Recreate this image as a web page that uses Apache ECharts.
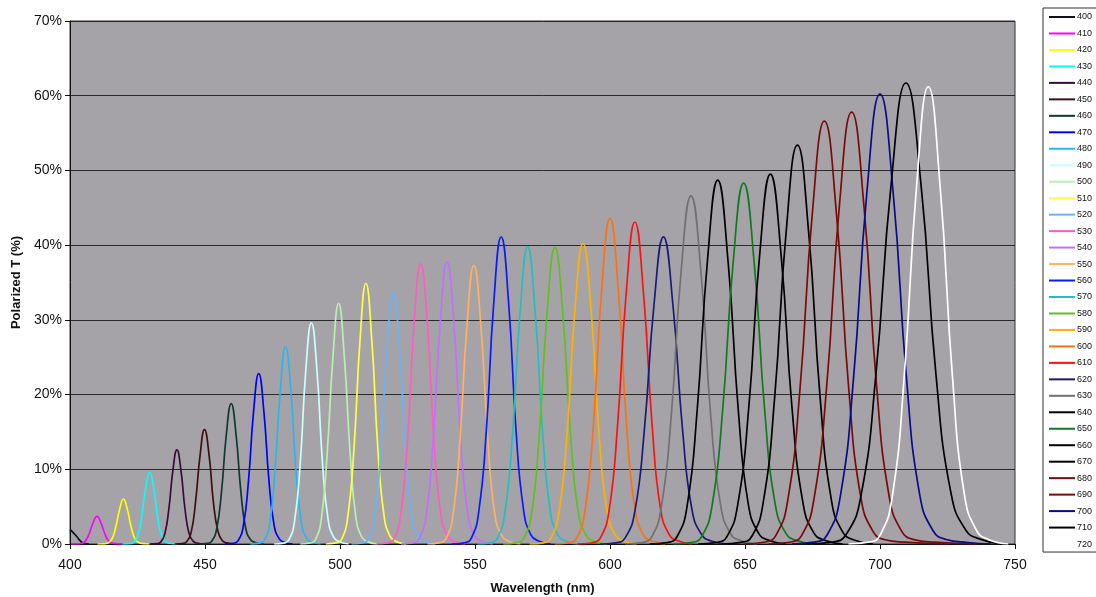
<!DOCTYPE html>
<html>
<head>
<meta charset="utf-8">
<script src="https://cdn.jsdelivr.net/npm/echarts@6/dist/echarts.min.js"></script>
<style>
    html, body { margin: 0; padding: 0; background: #fff; }
    #chart { width: 1096px; height: 597px; }
</style>
</head>
<body>
<div id="chart"></div>
<script>
// wavelength (nm), polarized T (%), one array per filter
var t400 = [[400, 1.9], [401, 1.6], [402.5, 1.0], [404, 0.35], [405.5, 0.05], [407, 0]];
var t410 = [[400.4, 0], [402.8, 0.01], [404.2, 0.07], [405.7, 0.39], [407.1, 1.37], [408.6, 2.88], [410, 3.7], [411.4, 2.88], [412.9, 1.37], [414.3, 0.41], [415.8, 0.11], [417.2, 0.04], [419.6, 0]];
var t420 = [[410.2, 0], [412.6, 0.02], [414.0, 0.12], [415.5, 0.64], [416.9, 2.21], [418.4, 4.67], [419.8, 6.0], [421.2, 4.67], [422.7, 2.21], [424.1, 0.66], [425.6, 0.18], [427.0, 0.06], [429.4, 0]];
var t430 = [[419.5, 0], [422.0, 0.04], [423.5, 0.19], [425.0, 1.02], [426.5, 3.54], [428.0, 7.48], [429.5, 9.6], [431.0, 7.48], [432.5, 3.54], [434.0, 1.06], [435.5, 0.29], [437.0, 0.1], [439.5, 0]];
var t440 = [[429.6, 0], [432.1, 0.05], [433.6, 0.25], [435.1, 1.34], [436.6, 4.65], [438.1, 9.82], [439.6, 12.6], [441.1, 9.82], [442.6, 4.65], [444.1, 1.39], [445.6, 0.38], [447.1, 0.13], [449.6, 0]];
var t450 = [[438.8, 0], [441.6, 0.06], [443.2, 0.31], [444.9, 1.62], [446.5, 5.65], [448.2, 11.92], [449.8, 15.3], [451.5, 11.92], [453.1, 5.65], [454.8, 1.68], [456.4, 0.46], [458.1, 0.15], [460.8, 0]];
var t460 = [[447.7, 0], [450.7, 0.08], [452.5, 0.38], [454.3, 1.99], [456.1, 6.94], [457.9, 14.65], [459.7, 18.8], [461.5, 14.65], [463.3, 6.94], [465.1, 2.07], [466.9, 0.56], [468.7, 0.19], [471.7, 0]];
var t470 = [[457.3, 0], [460.5, 0.09], [462.3, 0.46], [464.2, 2.42], [466.1, 8.41], [468.0, 17.76], [469.9, 22.8], [471.8, 17.76], [473.7, 8.41], [475.6, 2.51], [477.5, 0.68], [479.4, 0.23], [482.5, 0]];
var t480 = [[466.8, 0], [470.1, 0.11], [472.0, 0.53], [474.0, 2.8], [475.9, 9.74], [477.9, 20.57], [479.8, 26.4], [481.8, 20.57], [483.7, 9.74], [485.7, 2.9], [487.6, 0.79], [489.6, 0.26], [492.8, 0]];
var t490 = [[475.6, 0], [479.1, 0.12], [481.1, 0.59], [483.2, 3.14], [485.3, 10.92], [487.3, 23.06], [489.4, 29.6], [491.5, 23.06], [493.5, 10.92], [495.6, 3.26], [497.7, 0.89], [499.8, 0.3], [503.2, 0]];
var t500 = [[485.3, 0], [488.9, 0.13], [491.0, 0.64], [493.1, 3.41], [495.2, 11.88], [497.4, 25.08], [499.5, 32.2], [501.6, 25.08], [503.8, 11.88], [505.9, 3.54], [508.0, 0.97], [510.2, 0.32], [513.7, 0]];
var t510 = [[494.8, 0], [498.5, 0.14], [500.7, 0.7], [502.9, 3.7], [505.2, 12.88], [507.4, 27.19], [509.6, 34.9], [511.8, 27.19], [514.0, 12.88], [516.3, 3.84], [518.5, 1.05], [520.7, 0.35], [524.4, 0]];
var t520 = [[504.3, 0], [508.2, 0.13], [510.5, 0.67], [512.8, 3.57], [515.1, 12.44], [517.4, 26.25], [519.7, 33.7], [522.0, 26.25], [524.3, 12.44], [526.6, 3.71], [528.9, 1.01], [531.3, 0.34], [535.1, 0]];
var t530 = [[513.5, 0], [517.6, 0.15], [520.1, 0.75], [522.5, 3.98], [525.0, 13.84], [527.4, 29.21], [529.9, 37.5], [532.4, 29.21], [534.8, 13.84], [537.3, 4.13], [539.7, 1.13], [542.2, 0.38], [546.3, 0]];
var t540 = [[522.6, 0], [526.9, 0.15], [529.4, 0.76], [532.0, 4.01], [534.5, 13.95], [537.1, 29.45], [539.6, 37.8], [542.2, 29.45], [544.7, 13.95], [547.3, 4.16], [549.8, 1.13], [552.4, 0.38], [556.6, 0]];
var t550 = [[532.4, 0], [536.7, 0.15], [539.3, 0.75], [541.9, 3.95], [544.4, 13.76], [547.0, 29.06], [549.6, 37.3], [552.2, 29.06], [554.8, 13.76], [557.3, 4.1], [559.9, 1.12], [562.5, 0.37], [566.8, 0]];
var t560 = [[541.3, 0], [545.9, 0.16], [548.7, 0.82], [551.4, 4.36], [554.2, 15.17], [556.9, 32.02], [559.7, 41.1], [562.5, 32.02], [565.2, 15.17], [568.0, 4.52], [570.7, 1.23], [573.5, 0.41], [578.1, 0]];
var t570 = [[550.9, 0], [555.6, 0.16], [558.3, 0.8], [561.1, 4.22], [563.9, 14.69], [566.7, 31.0], [569.5, 39.8], [572.3, 31.0], [575.1, 14.69], [577.9, 4.38], [580.7, 1.19], [583.5, 0.4], [588.1, 0]];
var t580 = [[560.4, 0], [565.2, 0.16], [568.1, 0.79], [571.0, 4.21], [573.8, 14.65], [576.7, 30.93], [579.6, 39.7], [582.5, 30.93], [585.4, 14.65], [588.2, 4.37], [591.1, 1.19], [594.0, 0.4], [598.8, 0]];
var t590 = [[570.2, 0], [575.2, 0.16], [578.1, 0.8], [581.1, 4.26], [584.1, 14.83], [587.0, 31.32], [590.0, 40.2], [593.0, 31.32], [595.9, 14.83], [598.9, 4.42], [601.9, 1.21], [604.9, 0.4], [609.8, 0]];
var t600 = [[579.6, 0], [584.7, 0.17], [587.8, 0.87], [590.8, 4.62], [593.9, 16.09], [596.9, 33.96], [600.0, 43.6], [603.1, 33.96], [606.1, 16.09], [609.2, 4.8], [612.2, 1.31], [615.3, 0.44], [620.4, 0]];
var t610 = [[588.0, 0], [593.3, 0.17], [596.5, 0.86], [599.7, 4.57], [602.8, 15.9], [606.0, 33.57], [609.2, 43.1], [612.4, 33.57], [615.6, 15.9], [618.7, 4.74], [621.9, 1.29], [625.1, 0.43], [630.4, 0]];
var t620 = [[596.2, 0], [602.1, 0.16], [605.6, 0.82], [609.2, 4.36], [612.7, 15.17], [616.3, 32.02], [619.8, 41.1], [623.3, 32.02], [626.9, 15.17], [630.4, 4.52], [634.0, 1.23], [637.5, 0.41], [643.4, 0]];
var t630 = [[605.6, 0], [611.7, 0.19], [615.4, 0.93], [619.0, 4.94], [622.7, 17.2], [626.3, 36.3], [630.0, 46.6], [633.7, 36.3], [637.3, 17.2], [641.0, 5.13], [644.6, 1.4], [648.3, 0.47], [654.4, 0]];
var t640 = [[614.7, 0], [621.0, 0.19], [624.8, 0.97], [628.6, 5.16], [632.3, 17.97], [636.1, 37.94], [639.9, 48.7], [643.7, 37.94], [647.5, 17.97], [651.2, 5.36], [655.0, 1.46], [658.8, 0.49], [665.1, 0]];
var t650 = [[623.5, 0], [630.0, 0.19], [633.9, 0.97], [637.8, 5.12], [641.7, 17.82], [645.6, 37.63], [649.5, 48.3], [653.4, 37.63], [657.3, 17.82], [661.2, 5.31], [665.1, 1.45], [669.0, 0.48], [675.5, 0]];
var t660 = [[632.6, 0], [639.3, 0.2], [643.3, 0.99], [647.3, 5.25], [651.4, 18.27], [655.4, 38.56], [659.4, 49.5], [663.4, 38.56], [667.4, 18.27], [671.5, 5.45], [675.5, 1.49], [679.5, 0.5], [686.2, 0]];
var t670 = [[641.4, 0], [648.4, 0.21], [652.6, 1.07], [656.8, 5.66], [661.0, 19.7], [665.2, 41.6], [669.4, 53.4], [673.6, 41.6], [677.8, 19.7], [682.0, 5.87], [686.2, 1.6], [690.4, 0.53], [697.4, 0]];
var t680 = [[649.4, 0], [656.9, 0.23], [661.4, 1.13], [665.9, 6.0], [670.4, 20.89], [674.9, 44.09], [679.4, 56.6], [683.9, 44.09], [688.4, 20.89], [692.9, 6.23], [697.4, 1.7], [701.9, 0.57], [709.4, 0.25], [725, 0]];
var t690 = [[658.7, 0], [666.4, 0.23], [671.0, 1.16], [675.6, 6.13], [680.3, 21.33], [684.9, 45.03], [689.5, 57.8], [694.1, 45.03], [698.7, 21.33], [703.4, 6.36], [708.0, 1.73], [712.6, 0.58], [720.3, 0.25], [736, 0]];
var t700 = [[667.4, 0], [675.6, 0.24], [680.4, 1.2], [685.3, 6.38], [690.2, 22.21], [695.1, 46.9], [700.0, 60.2], [704.9, 46.9], [709.8, 22.21], [714.7, 6.62], [719.6, 1.81], [724.5, 0.6], [732.6, 0.2], [741, 0]];
var t710 = [[672.6, 0], [681.9, 0.25], [687.4, 1.23], [693.0, 6.54], [698.5, 22.77], [704.1, 48.06], [709.6, 61.7], [715.2, 48.06], [720.7, 22.77], [726.3, 6.79], [731.8, 1.85], [737.4, 0.62], [745, 0]];
var t720 = [[688.3, 0], [695.7, 0.24], [700.1, 1.22], [704.6, 6.49], [709.0, 22.58], [713.5, 47.67], [717.9, 61.2], [722.3, 47.67], [726.8, 22.58], [731.2, 6.73], [735.7, 1.84], [740.1, 0.61], [747.5, 0]];

var bands = ['400', '410', '420', '430', '440', '450', '460', '470', '480', '490', '500',
    '510', '520', '530', '540', '550', '560', '570', '580', '590', '600', '610', '620',
    '630', '640', '650', '660', '670', '680', '690', '700', '710', '720'];
var curves = [t400, t410, t420, t430, t440, t450, t460, t470, t480, t490, t500,
    t510, t520, t530, t540, t550, t560, t570, t580, t590, t600, t610, t620,
    t630, t640, t650, t660, t670, t680, t690, t700, t710, t720];

var xTicks = [400, 450, 500, 550, 600, 650, 700, 750];
var yTicks = [0, 10, 20, 30, 40, 50, 60, 70];

var bandColors = ['#10101e', '#ff00ff', '#ffff00', '#00ffff', '#3a0a3a', '#401010', '#103830',
    '#0000ff', '#29b6f0', '#c8ffff', '#b8f0b0', '#ffff40', '#6ab4f5', '#ff5cc0', '#c070ff',
    '#ffb060', '#0a1aff', '#20c0c0', '#60c020', '#ffb000', '#ff7010', '#ff1010', '#1a1a7a',
    '#707070', '#000000', '#107a20', '#000000', '#000000', '#7a0a0a', '#7a0a0a', '#0a0a8a',
    '#000000', '#ffffff'];

var font = '"Liberation Sans", Arial, sans-serif';

var myChart = echarts.init(document.getElementById('chart'));

var series = [];
for (var i = 0; i < bands.length; i++) {
    series.push({
        name: bands[i],
        type: 'line',
        data: curves[i],
        smooth: 0.5,
        symbol: 'none',
        color: bandColors[i],
        lineStyle: {width: 1.7, color: bandColors[i]}
    });
}

var option = {
    animation: false,
    backgroundColor: '#ffffff',
    grid: {
        left: 70,
        right: 81,
        top: 21,
        bottom: 53,
        outerBoundsMode: 'none',
        containLabel: false,
        show: true,
        backgroundColor: '#a6a3a8',
        borderColor: '#333',
        borderWidth: 1
    },
    legend: {
        orient: 'vertical',
        left: 1043,
        top: 8,
        data: bands,
        icon: 'rect',
        itemWidth: 26,
        itemHeight: 2,
        itemGap: 6.47,
        padding: [4, 30, 3, 6],
        borderColor: '#333',
        borderWidth: 1,
        backgroundColor: '#fff',
        textStyle: {fontSize: 9, lineHeight: 10, height: 10, color: '#111', fontFamily: font, padding: [0, 0, 0, -3]}
    },
    xAxis: {
        type: 'value',
        min: xTicks[0],
        max: xTicks[xTicks.length - 1],
        interval: 50,
        name: 'Wavelength (nm)',
        nameLocation: 'middle',
        nameGap: 38,
        nameTextStyle: {fontSize: 13, fontWeight: 'bold', color: '#111', fontFamily: font},
        axisLine: {show: true, lineStyle: {color: '#111', width: 1}},
        axisTick: {show: true, length: 5, lineStyle: {color: '#111'}},
        axisLabel: {fontSize: 14, color: '#111', fontFamily: font, margin: 14},
        splitLine: {show: false}
    },
    yAxis: {
        type: 'value',
        min: yTicks[0],
        max: yTicks[yTicks.length - 1],
        interval: 10,
        name: 'Polarized T (%)',
        nameLocation: 'middle',
        nameGap: 46,
        nameTextStyle: {fontSize: 13, fontWeight: 'bold', color: '#111', fontFamily: font},
        axisLine: {show: true, lineStyle: {color: '#111', width: 1}},
        axisTick: {show: true, length: 5, lineStyle: {color: '#111'}},
        axisLabel: {fontSize: 14, color: '#111', fontFamily: font, margin: 8, formatter: '{value}%'},
        splitLine: {show: true, lineStyle: {color: '#2a2a2a', width: 1}}
    },
    series: series
};

myChart.setOption(option);
</script>
</body>
</html>
